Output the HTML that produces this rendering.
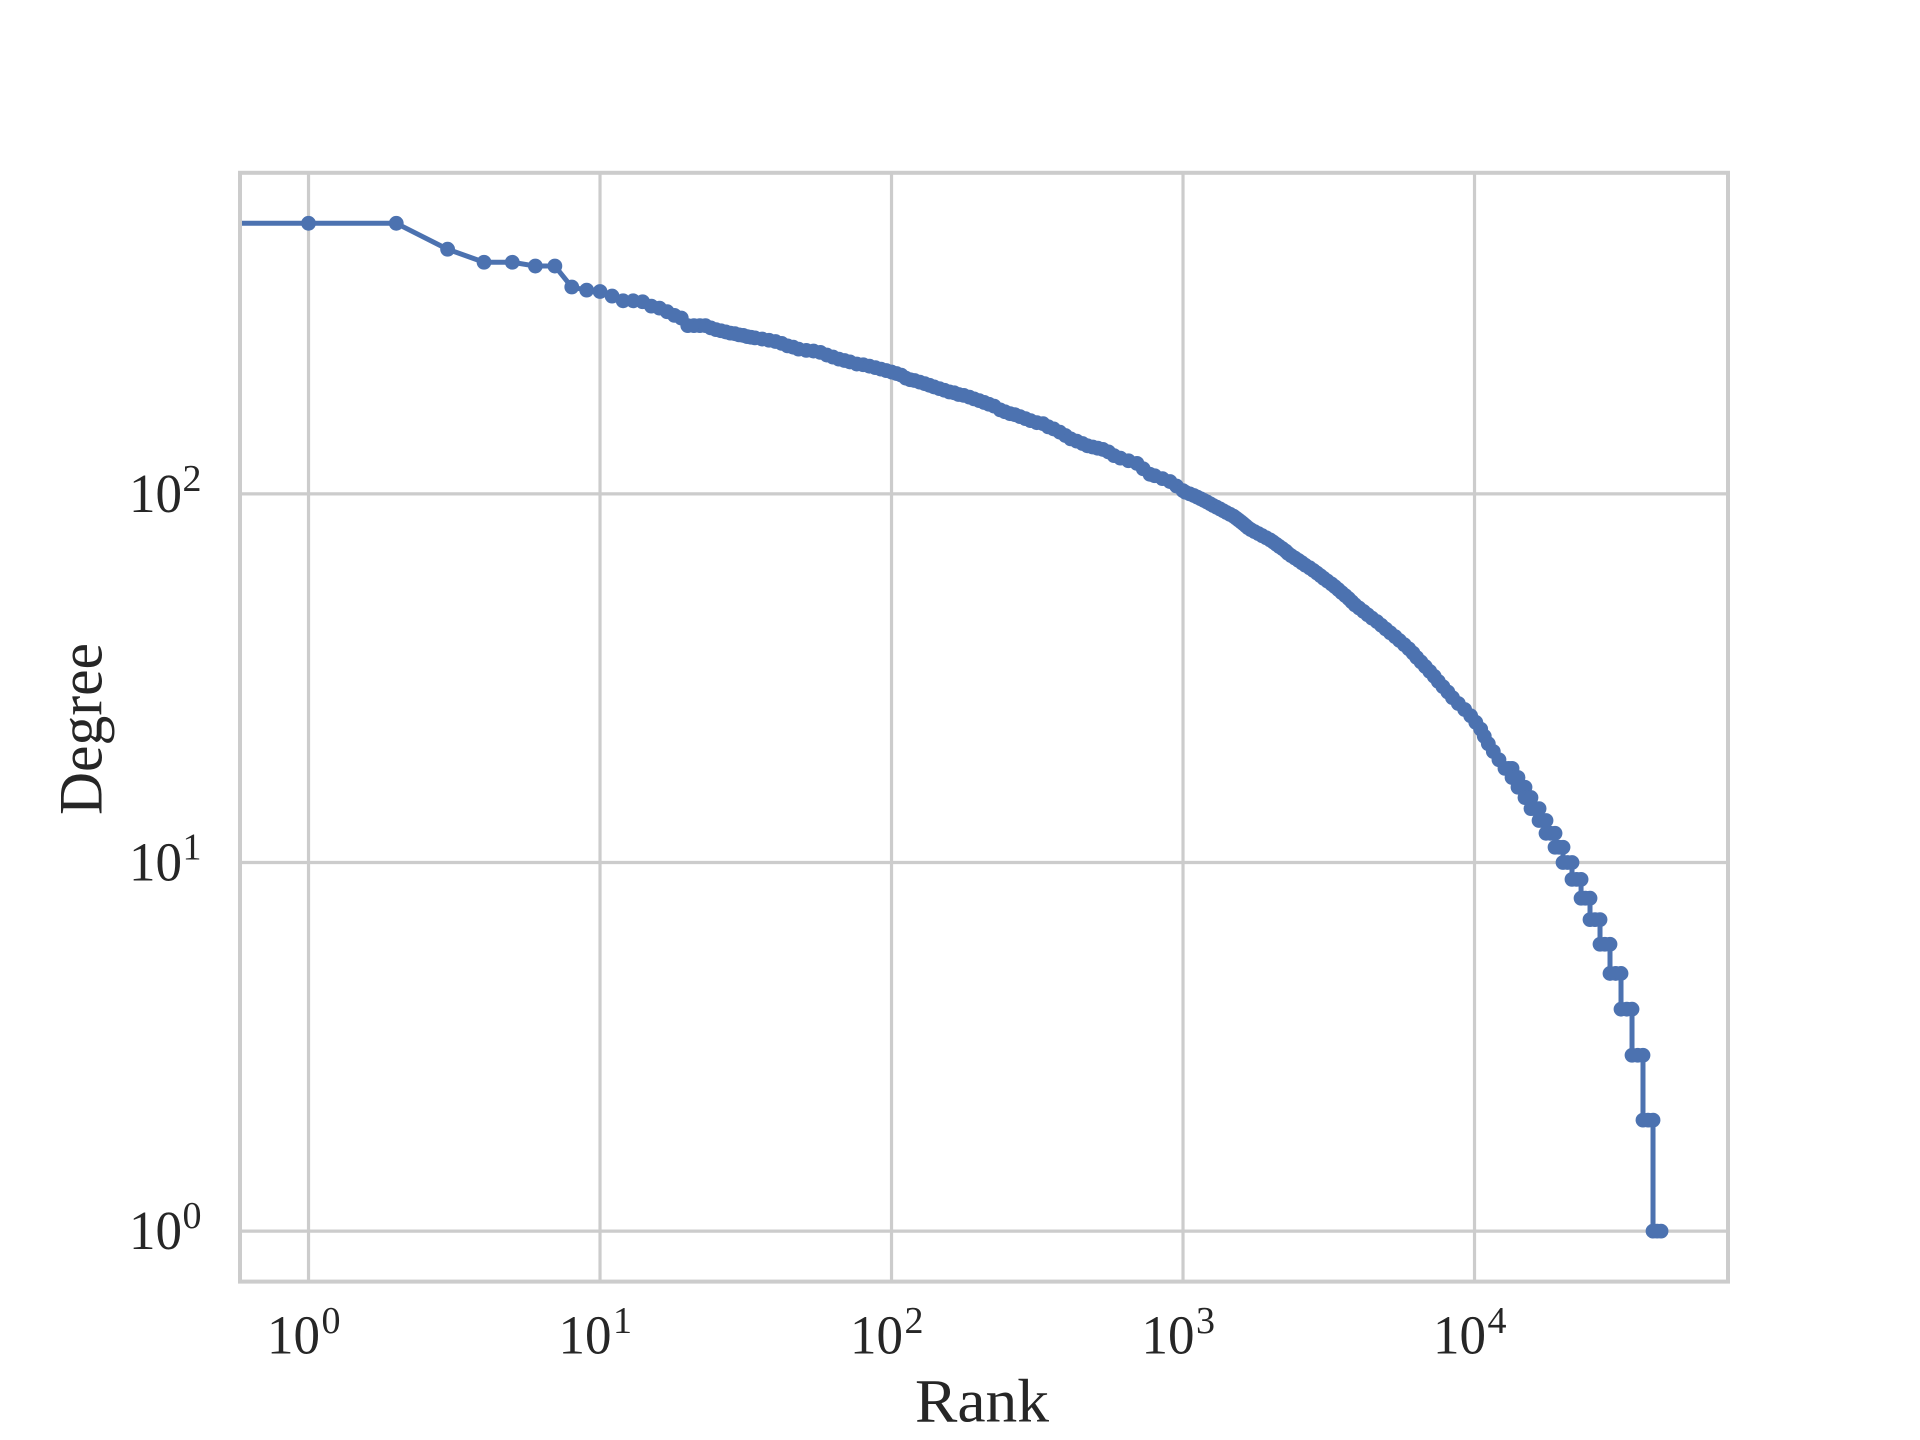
<!DOCTYPE html>
<html lang="en">
<head>
<meta charset="utf-8">
<title>Degree vs Rank</title>
<style>
  html, body { margin: 0; padding: 0; background: #ffffff; width: 1920px; height: 1440px; overflow: hidden; }
  svg { display: block; }
  text { font-family: "Liberation Serif", serif; fill: #262626; }
</style>
</head>
<body>
<svg id="chart" width="1920" height="1440" viewBox="0 0 1920 1440" xmlns="http://www.w3.org/2000/svg">
  <defs>
    <clipPath id="plot-clip"><rect x="240" y="172.8" width="1488" height="1108.8"></rect></clipPath>
  </defs>
  <rect x="0" y="0" width="1920" height="1440" fill="#ffffff"></rect>
  <g id="grid"></g>
  <g id="series" clip-path="url(#plot-clip)"></g>
  <rect x="240" y="172.8" width="1488" height="1108.8" fill="none" stroke="#cccccc" stroke-width="4"></rect>
  <g id="ticks"></g>
  <text x="915" y="1421.7" font-size="61" textLength="134" lengthAdjust="spacingAndGlyphs">Rank</text>
  <text transform="translate(101.7,815) rotate(-90)" x="0" y="0" font-size="61" textLength="172" lengthAdjust="spacingAndGlyphs">Degree</text>
</svg>
<script>
const xTickExponents = [0, 1, 2, 3, 4];
const yTickExponents = [0, 1, 2];
const xDomain = [0.582, 74060];
const yDomain = [0.7295, 743];

const ranks = [
  0, 1, 2, 3, 4, 5, 6, 7, 8, 9,
  10, 11, 12, 13, 14, 15, 16, 17, 18, 19,
  20, 21, 22, 23,
  24, 25, 26, 27, 28, 29, 30, 31, 32, 33,
  34, 36, 38, 40, 42, 44, 46, 48, 51, 54,
  57, 60, 63, 66, 69, 72, 76, 80, 84, 88,
  92, 96, 100, 104, 108, 112, 116, 120, 125, 130,
  135, 140, 146, 152, 158, 164, 170, 177, 185, 192,
  200, 208, 216, 225, 236, 245, 255, 265, 276, 288,
  300, 315, 331, 345, 360, 378, 395, 412, 432, 452,
  470, 490, 510, 531, 555, 580, 610, 650, 695, 730,
  770, 800, 850, 902, 950, 1000, 1020, 1055, 1090, 1120,
  1150, 1180, 1210, 1240, 1270, 1305, 1340, 1375, 1410, 1450,
  1490, 1520, 1550, 1580, 1610, 1640, 1670, 1710, 1760, 1815,
  1870, 1930, 1990, 2040, 2090, 2140, 2195, 2250, 2290, 2350,
  2420, 2490, 2560, 2630, 2720, 2800, 2880, 2960, 3040, 3130,
  3230, 3320, 3410, 3500, 3600, 3700, 3790, 3890, 4020, 4160,
  4300, 4450, 4630, 4790, 4960, 5140, 5340, 5530, 5740, 5950,
  6150, 6330, 6550, 6780, 7020, 7270, 7510, 7790, 8100, 8400,
  8800, 9250, 9700, 10100, 10500, 10800, 11150, 11600, 12130, 12720,
  13100, 13450, 13450, 13800, 14100, 14100, 14500, 14900, 14900, 15250,
  15620, 15620, 16100, 16650, 16650, 17100, 17590, 17590, 18200, 18890,
  18890, 19500, 20120, 20120, 20850, 21600, 21600, 22400, 23200, 23200,
  24000, 24900, 24900, 25900, 26950, 26950, 28000, 29160, 29160, 30500,
  31810, 31810, 33300, 34700, 34700, 36300, 37840, 37840, 39400, 40960,
  40960, 42300, 43640
];

const degrees = [
  542, 542, 542, 461, 425, 425, 415, 415, 364, 357,
  354, 344, 334, 334, 332, 323, 319, 312, 305, 300,
  286, 286, 286, 286,
  282, 279, 277, 275, 273, 272, 270, 269, 267, 266,
  265, 263, 261, 259, 256, 252, 250, 247, 245, 244,
  242, 238, 235, 232, 230, 228, 225, 224, 222, 220,
  218, 216, 214, 212, 210, 206, 204, 203, 201, 199,
  197, 195, 193, 191, 189, 188, 186, 185, 183, 181,
  179, 177, 175, 173, 169, 167, 165, 164, 162, 160,
  158, 156, 155, 152, 150, 147, 144, 141, 139, 137,
  135, 134, 133, 132, 130, 127, 125, 123, 121, 117,
  113, 112, 110, 108, 105, 102, 101, 100, 99, 98,
  97, 96, 95, 94, 93, 92, 91, 90, 89, 88,
  87, 86, 85, 84, 83, 82, 81, 80, 79, 78,
  77, 76, 75, 74, 73, 72, 71, 70, 69, 68,
  67, 66, 65, 64, 63, 62, 61, 60, 59, 58,
  57, 56, 55, 54, 53, 52, 51, 50, 49, 48,
  47, 46, 45, 44, 43, 42, 41, 40, 39, 38,
  37, 36, 35, 34, 33, 32, 31, 30, 29, 28,
  27, 26, 25, 24, 23, 22, 21, 20, 19, 18,
  18, 18, 17, 17, 17, 16, 16, 16, 15, 15,
  15, 14, 14, 14, 13, 13, 13, 12, 12, 12,
  11, 11, 11, 10, 10, 10, 9, 9, 9, 8,
  8, 8, 7, 7, 7, 6, 6, 6, 5, 5,
  5, 4, 4, 4, 3, 3, 3, 2, 2, 2,
  1, 1, 1
];

const SVG_NS = 'http://www.w3.org/2000/svg';
const plotLeft = 240;
const plotRight = 1728;
const plotTop = 172.8;
const plotBottom = 1281.6;

function xScale(v) {
  const safe = Math.max(v, 0.001);
  const a = Math.log10(xDomain[0]);
  const b = Math.log10(xDomain[1]);
  return plotLeft + (plotRight - plotLeft) * (Math.log10(safe) - a) / (b - a);
}

function yScale(v) {
  const safe = Math.max(v, 0.001);
  const a = Math.log10(yDomain[0]);
  const b = Math.log10(yDomain[1]);
  return plotBottom - (plotBottom - plotTop) * (Math.log10(safe) - a) / (b - a);
}

const gridGroup = document.getElementById('grid');
const seriesGroup = document.getElementById('series');
const tickGroup = document.getElementById('ticks');

function makeGridLine(x1, y1, x2, y2) {
  const line = document.createElementNS(SVG_NS, 'line');
  line.setAttribute('x1', x1);
  line.setAttribute('y1', y1);
  line.setAttribute('x2', x2);
  line.setAttribute('y2', y2);
  line.setAttribute('stroke', '#cccccc');
  line.setAttribute('stroke-width', '3.2');
  return line;
}

function makeText(str, x, y, size, len) {
  const t = document.createElementNS(SVG_NS, 'text');
  t.setAttribute('x', x);
  t.setAttribute('y', y);
  t.setAttribute('font-size', size);
  t.setAttribute('textLength', len);
  t.setAttribute('lengthAdjust', 'spacingAndGlyphs');
  t.textContent = str;
  return t;
}

xTickExponents.forEach(function (e) {
  const px = xScale(Math.pow(10, e));
  const gl = makeGridLine(px, plotTop, px, plotBottom);
  
  
  gridGroup.appendChild(gl);

  const base = makeText('10', px - 41.5, 1353.3, 55, 53);
  
  
  tickGroup.appendChild(base);

  const sup = makeText(String(e), px + 13, 1333, 38, 19);
  
  
  tickGroup.appendChild(sup);
});

yTickExponents.forEach(function (e) {
  const py = yScale(Math.pow(10, e));
  const gl = makeGridLine(plotLeft, py, plotRight, py);
  
  
  gridGroup.appendChild(gl);

  const base = makeText('10', 129, py + 18, 55, 53);
  
  
  tickGroup.appendChild(base);

  const sup = makeText(String(e), 182.5, py - 3, 38, 19);
  
  
  tickGroup.appendChild(sup);
});

const linePoints = ranks.map(function (r, i) {
  return xScale(r).toFixed(2) + ',' + yScale(degrees[i]).toFixed(2);
}).join(' ');

const seriesLine = document.createElementNS(SVG_NS, 'polyline');


seriesLine.setAttribute('points', linePoints);
seriesLine.setAttribute('fill', 'none');
seriesLine.setAttribute('stroke', '#4c72b0');
seriesLine.setAttribute('stroke-width', '5');
seriesLine.setAttribute('stroke-linejoin', 'round');
seriesGroup.appendChild(seriesLine);

ranks.forEach(function (r, i) {
  const dot = document.createElementNS(SVG_NS, 'circle');
  
  
  dot.setAttribute('cx', xScale(r).toFixed(2));
  dot.setAttribute('cy', yScale(degrees[i]).toFixed(2));
  dot.setAttribute('r', '7.4');
  dot.setAttribute('fill', '#4c72b0');
  seriesGroup.appendChild(dot);
});
</script>
</body>
</html>
